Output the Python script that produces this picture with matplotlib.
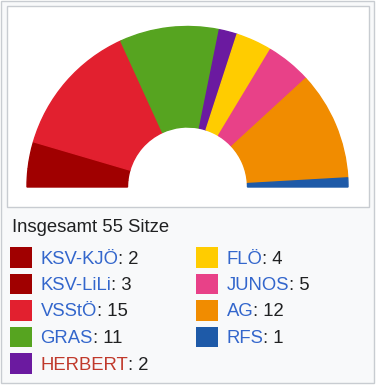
import matplotlib
matplotlib.use("Agg")
import matplotlib.pyplot as plt
from matplotlib.patches import Rectangle

# seat distribution
parties = ["KSV-KJÖ", "KSV-LiLi", "VSStÖ", "GRAS", "HERBERT", "FLÖ", "JUNOS", "AG", "RFS"]
seats = [2, 3, 15, 11, 2, 4, 5, 12, 1]
colors = ["#a00000", "#a00000", "#e2202f", "#56a420", "#6b1aa0",
          "#ffcc00", "#e84188", "#f18c00", "#1e5aa8"]
link_colors = ["#3366cc"] * 4 + ["#c0392b"] + ["#3366cc"] * 4
total_label = "Insgesamt 55 Sitze"

W, H = 376, 386
fig = plt.figure(figsize=(W / 100, H / 100), dpi=100)
fig.patch.set_facecolor("white")

# background axes in pixel coordinates (y down)
bg = fig.add_axes([0, 0, 1, 1])
bg.set_xlim(0, W)
bg.set_ylim(H, 0)
bg.axis("off")
bg.add_patch(Rectangle((1, 1), W - 3, H - 4, facecolor="#f8f9fa", edgecolor="#c8ccd1", lw=1))
bg.add_patch(Rectangle((6.5, 6), 362.5, 201, facecolor="white", edgecolor="#c8ccd1", lw=1))

# half donut
cx, cy, r_out, r_in = 187.5, 187, 160.5, 60
ax = fig.add_axes([(cx - r_out) / W, (H - cy) / H, 2 * r_out / W, r_out / H])
total = sum(seats)
wedges, _ = ax.pie(seats + [total], colors=colors + ["none"], startangle=180,
                   counterclock=False, radius=1,
                   wedgeprops=dict(width=1 - r_in / r_out, linewidth=1.0))
for w, c in zip(wedges, colors):
    w.set_edgecolor(c)
    w.set_linewidth(1.0)
wedges[-1].set_edgecolor("none")
ax.set_xlim(-1, 1)
ax.set_ylim(0, 1)
ax.set_aspect("auto")
ax.axis("off")

font = "Liberation Sans"
fs = 13.3
bg.text(12, 231.5, total_label, fontsize=fs, family=font, color="#202122", va="baseline")

# legend, two columns
rows = 5
for i, (p, s, c, lc) in enumerate(zip(parties, seats, colors, link_colors)):
    col, row = divmod(i, rows)
    x0 = 10 + col * 186
    y0 = 247 + row * 26.5
    bg.add_patch(Rectangle((x0, y0), 22, 20.5, facecolor=c, edgecolor="none"))
    t = bg.text(x0 + 30.5, y0 + 16.5, p, fontsize=fs, family=font, color=lc, va="baseline")
    bg.annotate(f": {s}", xycoords=t, xy=(1, 0), va="bottom", fontsize=fs,
                family=font, color="#202122")

fig.savefig("out.png", dpi=100)
